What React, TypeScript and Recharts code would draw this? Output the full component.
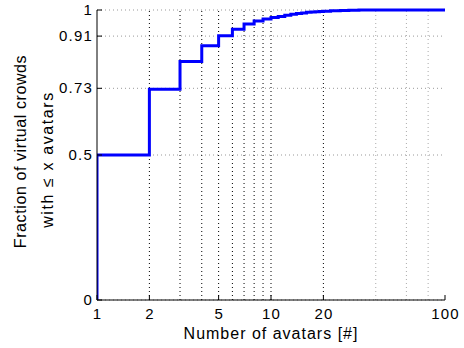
import { LineChart, Line, XAxis, YAxis, CartesianGrid, ReferenceLine } from "recharts";

// avatar count (x) and fraction of crowds with <= x avatars (CDF, step after x)
const avatarCounts = [1, 1, 2, 3, 4, 5, 6, 7, 8, 9, 10, 11, 12, 13, 14, 15, 16, 17, 18, 19, 20, 22, 25, 28, 32, 100];
const fractions = [
  0, 0.5, 0.727, 0.822, 0.877, 0.911, 0.934, 0.952, 0.962, 0.969, 0.974, 0.978, 0.982, 0.985, 0.988, 0.99,
  0.992, 0.993, 0.994, 0.995, 0.996, 0.997, 0.998, 0.999, 1, 1,
];

const xTicks = [1, 2, 5, 10, 20, 100];
const yTicks = [0, 0.5, 0.73, 0.91, 1];
const darkGridX = [2, 3, 4, 5, 6, 7, 8, 9, 10, 20];
const lightGridX = [40, 60, 80];

const data = avatarCounts.map((x, i) => ({ x, y: fractions[i] }));

const font = "'Liberation Sans', Arial, Helvetica, sans-serif";

const XTick = ({ x, payload }: any) => (
  <text x={x + 0.6} y={319} textAnchor="middle" fontSize={15} letterSpacing={1.2} fontFamily={font} fill="#000">
    {payload.value}
  </text>
);

const YTick = ({ y, payload }: any) => (
  <text x={93} y={y} dy={5} textAnchor="end" fontSize={15} letterSpacing={1.2} fontFamily={font} fill="#000">
    {payload.value}
  </text>
);

const NoTick = () => <g />;

const XLabel = () => (
  <text x={271} y={339} textAnchor="middle" fontSize={16} letterSpacing={1} fontFamily={font} fill="#000">
    Number of avatars [#]
  </text>
);

const YLabel = () => (
  <g fontFamily={font} fontSize={16} fill="#000">
    <text
      x={20}
      y={151.5}
      textAnchor="middle"
      dominantBaseline="central"
      letterSpacing={0.6}
      transform="rotate(-90 20 151.5)"
    >
      Fraction of virtual crowds
    </text>
    <text
      x={47}
      y={159.5}
      textAnchor="middle"
      dominantBaseline="central"
      letterSpacing={1.6}
      transform="rotate(-90 47 159.5)"
    >
      with ≤ x avatars
    </text>
  </g>
);

export default function App() {
  return (
    <div style={{ position: "absolute", left: 0, top: 0, background: "#fff" }}>
      <LineChart width={464} height={348} data={data} margin={{ top: 10, right: 19, bottom: 0, left: 0 }}>
        <CartesianGrid vertical={false} stroke="#999" strokeDasharray="1 3" />
        {darkGridX.map((v) => (
          <ReferenceLine key={`d${v}`} x={v} stroke="#000" strokeDasharray="1 3" />
        ))}
        {lightGridX.map((v) => (
          <ReferenceLine key={`l${v}`} x={v} stroke="#aaa" strokeDasharray="1 3" />
        ))}
        <XAxis
          dataKey="x"
          type="number"
          scale="log"
          domain={[1, 100]}
          ticks={xTicks}
          allowDataOverflow
          height={48}
          stroke="#000"
          tickSize={-5}
          tick={<XTick />}
          label={<XLabel />}
        />
        <XAxis
          xAxisId="top"
          orientation="top"
          type="number"
          scale="log"
          domain={[1, 100]}
          ticks={xTicks}
          allowDataOverflow
          height={0}
          stroke="#000"
          tickSize={-5}
          tick={<NoTick />}
        />
        <YAxis
          type="number"
          domain={[0, 1]}
          ticks={yTicks}
          width={97}
          stroke="#000"
          tickSize={-5}
          tick={<YTick />}
          label={<YLabel />}
        />
        <YAxis
          yAxisId="right"
          orientation="right"
          type="number"
          domain={[0, 1]}
          ticks={yTicks}
          width={0}
          stroke="#000"
          tickSize={-5}
          tick={<NoTick />}
        />
        <Line
          dataKey="y"
          type="stepAfter"
          stroke="#0000ff"
          strokeWidth={3}
          dot={false}
          isAnimationActive={false}
        />
      </LineChart>
    </div>
  );
}
